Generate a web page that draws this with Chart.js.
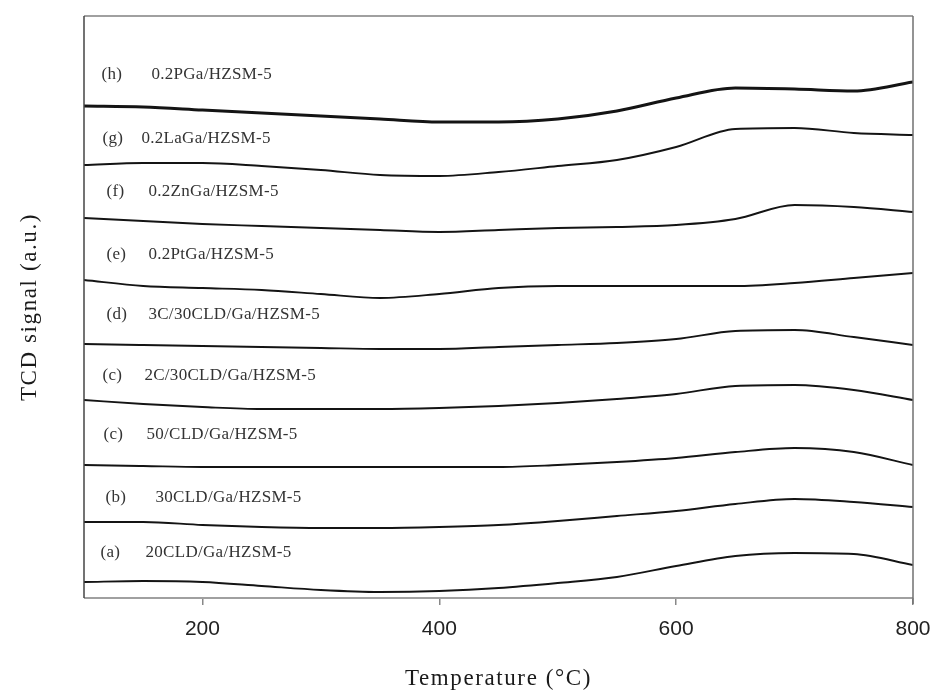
<!DOCTYPE html>
<html>
<head>
<meta charset="utf-8">
<title>TPD profiles</title>
<script src="https://cdn.jsdelivr.net/npm/chart.js@4.4.1/dist/chart.umd.min.js"></script>
<style>
  html, body { margin: 0; padding: 0; background: #ffffff; }
  #wrap { width: 933px; height: 695px; position: relative; }
</style>
</head>
<body>
<div id="wrap"><canvas id="tpd"></canvas></div>
<script>
// Temperature grid (°C) shared by every profile
const temperatures = [100, 150, 200, 250, 300, 350, 400, 450, 500, 550, 600, 650, 700, 750, 800];

// TCD signal (a.u., stacked with vertical offsets), one array per catalyst
const signalA = [16, 17, 16, 12, 8, 6, 7, 10, 15, 21, 32, 42, 45, 44, 33];
const signalB = [76, 76, 73, 71, 70, 70, 71, 73, 77, 82, 87, 94, 99, 96, 91];
const signalC50 = [133, 132, 131, 131, 131, 131, 131, 131, 133, 136, 140, 146, 150, 146, 133];
const signalC2C = [198, 194, 191, 189, 189, 189, 190, 192, 195, 199, 204, 212, 213, 208, 198];
const signalD = [254, 253, 252, 251, 250, 249, 249, 251, 253, 255, 259, 267, 268, 261, 253];
const signalE = [318, 312, 310, 308, 304, 300, 304, 310, 312, 312, 312, 312, 315, 320, 325];
const signalF = [380, 377, 374, 372, 370, 368, 366, 368, 370, 371, 373, 379, 393, 391, 386];
const signalG = [433, 435, 435, 432, 428, 423, 422, 426, 432, 438, 451, 469, 470, 465, 463];
const signalH = [492, 491, 488, 485, 482, 479, 476, 476, 479, 487, 500, 510, 509, 507, 516];

// Curve tags and sample names, bottom to top
const curveTags = ['(a)', '(b)', '(c)', '(c)', '(d)', '(e)', '(f)', '(g)', '(h)'];
const sampleNames = [
  '20CLD/Ga/HZSM-5',
  '30CLD/Ga/HZSM-5',
  '50/CLD/Ga/HZSM-5',
  '2C/30CLD/Ga/HZSM-5',
  '3C/30CLD/Ga/HZSM-5',
  '0.2PtGa/HZSM-5',
  '0.2ZnGa/HZSM-5',
  '0.2LaGa/HZSM-5',
  '0.2PGa/HZSM-5'
];

// X axis tick values
const xTickValues = [200, 400, 600, 800];

// Axis titles
const xTitle = 'Temperature (\u00B0C)';
const yTitle = 'TCD signal (a.u.)';

const seriesList = [signalA, signalB, signalC50, signalC2C, signalD, signalE, signalF, signalG, signalH];

// Where each curve's caption sits (data coordinates): tag x, name x, y
const captionPlacement = [
  { tagX: 113.9, nameX: 151.9, y: 45 },
  { tagX: 118.1, nameX: 160.3, y: 100 },
  { tagX: 116.4, nameX: 152.7, y: 163 },
  { tagX: 115.6, nameX: 151.0, y: 222 },
  { tagX: 119.0, nameX: 154.4, y: 283 },
  { tagX: 119.0, nameX: 154.4, y: 343 },
  { tagX: 119.0, nameX: 154.4, y: 406 },
  { tagX: 115.6, nameX: 148.5, y: 459 },
  { tagX: 114.8, nameX: 156.9, y: 523 }
];

const datasets = seriesList.map((vals, i) => ({
  label: curveTags[i] + ' ' + sampleNames[i],
  data: temperatures.map((t, k) => ({ x: t, y: vals[k] })),
  borderColor: '#141414',
  borderWidth: i === 8 ? 3 : 1.9,
  pointRadius: 0,
  fill: false,
  cubicInterpolationMode: 'monotone'
}));

// Frame, captions and axis titles
const decorPlugin = {
  id: 'decor',
  afterDraw(chart) {
    const { ctx, chartArea: a, scales } = chart;
    ctx.save();
    // plot frame
    ctx.lineWidth = 2;
    ctx.strokeStyle = '#a0a0a0';
    ctx.beginPath();
    ctx.moveTo(a.left, a.top); ctx.lineTo(a.right, a.top);
    ctx.moveTo(a.left, a.bottom); ctx.lineTo(a.right, a.bottom);
    ctx.stroke();
    ctx.lineWidth = 1.5;
    ctx.strokeStyle = '#444444';
    ctx.beginPath();
    ctx.moveTo(a.left, a.top); ctx.lineTo(a.left, a.bottom);
    ctx.stroke();
    ctx.strokeStyle = '#707070';
    ctx.beginPath();
    ctx.moveTo(a.right, a.top); ctx.lineTo(a.right, a.bottom + 6);
    ctx.stroke();

    // curve captions
    ctx.fillStyle = '#333333';
    ctx.font = '17px "Liberation Serif", "Times New Roman", serif';
    ctx.letterSpacing = '0.3px';
    ctx.textBaseline = 'middle';
    ctx.textAlign = 'left';
    captionPlacement.forEach((p, i) => {
      const y = scales.y.getPixelForValue(p.y);
      ctx.fillText(curveTags[i], scales.x.getPixelForValue(p.tagX), y);
      ctx.fillText(sampleNames[i], scales.x.getPixelForValue(p.nameX), y);
    });

    // axis titles
    ctx.fillStyle = '#1a1a1a';
    ctx.font = '23px "Liberation Serif", "Times New Roman", serif';
    ctx.letterSpacing = '1.6px';
    ctx.textAlign = 'center';
    ctx.fillText(xTitle, (a.left + a.right) / 2, 679);
    ctx.translate(30, (a.top + a.bottom) / 2);
    ctx.rotate(-Math.PI / 2);
    ctx.fillText(yTitle, 0, 0);
    ctx.restore();
  }
};

new Chart(document.getElementById('tpd'), {
  type: 'line',
  data: { datasets },
  options: {
    responsive: true,
    maintainAspectRatio: false,
    animation: false,
    layout: { padding: { left: 84, right: 20, top: 16, bottom: 0 } },
    plugins: { legend: { display: false }, tooltip: { enabled: false } },
    scales: {
      x: {
        type: 'linear',
        min: 100,
        max: 800,
        afterBuildTicks: (scale) => { scale.ticks = xTickValues.map(v => ({ value: v })); },
        afterFit: (scale) => { scale.height = 97; scale.paddingLeft = 0; scale.paddingRight = 0; },
        border: { display: false },
        grid: { display: true, drawOnChartArea: false, drawTicks: true, tickLength: 7, color: '#888888', lineWidth: 1.5 },
        ticks: {
          color: '#222222',
          padding: 12,
          maxRotation: 0,
          font: { family: '"Liberation Sans", Arial, sans-serif', size: 21 }
        }
      },
      y: {
        type: 'linear',
        min: 0,
        max: 582,
        display: false
      }
    }
  },
  plugins: [decorPlugin]
});
</script>
</body>
</html>
